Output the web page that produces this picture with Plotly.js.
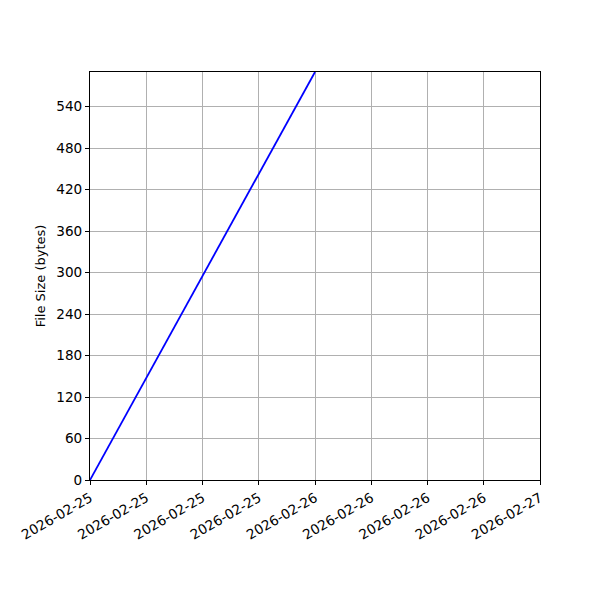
<!DOCTYPE html>
<html>
<head>
<meta charset="utf-8">
<script src="https://cdn.plot.ly/plotly-3.0.1.min.js"></script>
<style>
  html, body { margin: 0; padding: 0; background: #fff; }
  #chart { width: 600px; height: 600px; }
</style>
</head>
<body>
<div id="chart"></div>
<script>
// file size over time
const times = ['2026-02-25 00:00:00', '2026-02-26 00:00:00'];
const sizes = [0, 590];

const xRange = ['2026-02-25 00:00:00', '2026-02-27 00:00:00'];
const yRange = [0, 590];

const axisFont = { family: 'DejaVu Sans', size: 13.6, color: '#000' };
const titleFont = { family: 'DejaVu Sans', size: 13, color: '#000' };

const trace = {
  x: times,
  y: sizes,
  type: 'scatter',
  mode: 'lines',
  line: { color: '#0000ff', width: 1.8 },
  hoverinfo: 'skip'
};

const layout = {
  width: 600,
  height: 600,
  margin: { l: 90, r: 60, t: 72, b: 120 },
  paper_bgcolor: '#fff',
  plot_bgcolor: '#fff',
  showlegend: false,
  font: axisFont,
  xaxis: {
    type: 'date',
    range: xRange,
    tick0: '2026-02-25 00:00:00',
    dtick: 6 * 3600 * 1000,
    tickformat: '%Y-%m-%d',
    tickangle: -30,
    ticks: 'outside',
    ticklen: 4,
    tickcolor: '#000',
    showgrid: true,
    gridcolor: '#b0b0b0',
    gridwidth: 1,
    showline: true,
    linecolor: '#000',
    linewidth: 1,
    mirror: true,
    zeroline: false,
    tickfont: axisFont
  },
  yaxis: {
    range: yRange,
    tick0: 0,
    dtick: 60,
    ticks: 'outside',
    ticklen: 4,
    tickcolor: '#000',
    showgrid: true,
    gridcolor: '#b0b0b0',
    gridwidth: 1,
    showline: true,
    linecolor: '#000',
    linewidth: 1,
    mirror: true,
    zeroline: false,
    tickfont: axisFont,
    title: { text: 'File Size (bytes)', font: titleFont, standoff: 7 }
  }
};

Plotly.newPlot('chart', [trace], layout, { staticPlot: true, displayModeBar: false });
</script>
</body>
</html>
